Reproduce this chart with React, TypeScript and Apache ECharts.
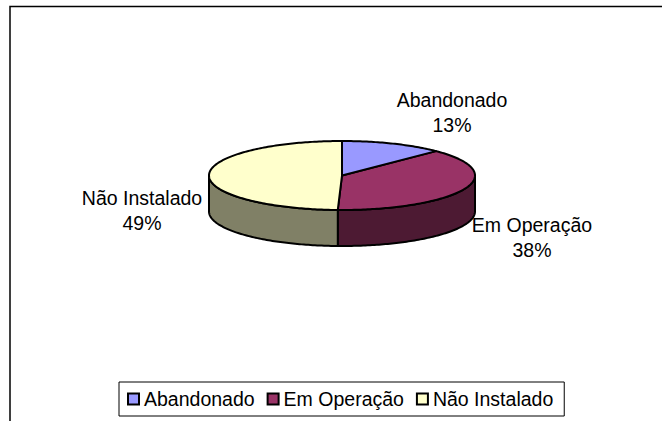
import React, { useEffect, useRef } from "react";
import * as echarts from "echarts";

const categories = ["Abandonado", "Em Operação", "Não Instalado"];
const values = [12.5, 38.0, 49.49];
const topColors = ["#9999FF", "#993366", "#FFFFCC"];
const wallColors = ["#4D4D80", "#4D1A33", "#808066"];
const labelCenters = [
  [452, 112],
  [532, 237],
  [142, 210],
];

const FONT = '"Liberation Sans", Arial, sans-serif';
const CX = 342;
const CY = 175.5;
const RX = 133;
const RY = 34.5;
const DEPTH = 36;

const total = values.reduce((a, b) => a + b, 0);
const ranges: number[][] = [];
values.reduce((acc, v) => {
  ranges.push([acc, acc + v]);
  return acc + v;
}, 0);

const pt = (deg: number, dy = 0): number[] => {
  const r = (deg * Math.PI) / 180;
  return [CX + RX * Math.sin(r), CY - RY * Math.cos(r) + dy];
};
const arc = (a: number, b: number, dy = 0): number[][] => {
  const out: number[][] = [];
  const steps = Math.max(2, Math.ceil(Math.abs(b - a)));
  for (let i = 0; i <= steps; i++) out.push(pt(a + ((b - a) * i) / steps, dy));
  return out;
};

const renderItemFor = (idx: number) => (_params: any, api: any) => {
  const a = (api.value(0) / total) * 360;
  const b = (api.value(1) / total) * 360;
  const children: any[] = [];
  const wa = Math.max(a, 90);
  const wb = Math.min(b, 270);
  if (wb > wa) {
    children.push({
      type: "polygon",
      shape: { points: [...arc(wa, wb), ...arc(wb, wa, DEPTH)] },
      style: { fill: wallColors[idx], stroke: "#000", lineWidth: 2, lineJoin: "round" },
    });
  }
  children.push({
    type: "polygon",
    shape: { points: [[CX, CY], ...arc(a, b)] },
    style: { fill: topColors[idx], stroke: "#000", lineWidth: 2, lineJoin: "round" },
  });
  const pct = Math.round((values[idx] / total) * 100);
  children.push({
    type: "text",
    x: labelCenters[idx][0],
    y: labelCenters[idx][1],
    style: {
      text: `${categories[idx]}\n${pct}%`,
      fill: "#000",
      font: `19.5px ${FONT}`,
      lineHeight: 25,
      align: "center",
      verticalAlign: "middle",
    },
  });
  return { type: "group", children };
};

export default function App() {
  const ref = useRef<HTMLDivElement>(null);
  useEffect(() => {
    document.body.style.margin = "0";
    const chart = echarts.init(ref.current!, null, { renderer: "svg" });
    chart.setOption({
      animation: false,
      backgroundColor: "#fff",
      legend: {
        data: categories,
        left: 119,
        top: 382,
        padding: [7, 11, 7, 8],
        itemWidth: 11,
        itemHeight: 11,
        itemGap: 12,
        icon: "rect",
        selectedMode: false,
        borderColor: "#000",
        borderWidth: 1,
        itemStyle: { borderColor: "#000", borderWidth: 2 },
        textStyle: { fontFamily: FONT, fontSize: 19.5, color: "#000", lineHeight: 20 },
      },
      graphic: [
        {
          type: "polyline",
          silent: true,
          shape: { points: [[10, 422], [10, 6.5], [662, 6.5]] },
          style: { fill: "none", stroke: "#000", lineWidth: 1.5 },
        },
      ],
      series: categories.map((name, i) => ({
        type: "custom",
        name,
        coordinateSystem: "none",
        silent: true,
        z: 2 + (i === 0 ? 1 : 0),
        itemStyle: { color: topColors[i] },
        data: [[ranges[i][0], ranges[i][1]]],
        renderItem: renderItemFor(i),
      })),
    });
    return () => chart.dispose();
  }, []);
  return <div ref={ref} style={{ width: 662, height: 421, position: "absolute", left: 0, top: 0 }} />;
}
